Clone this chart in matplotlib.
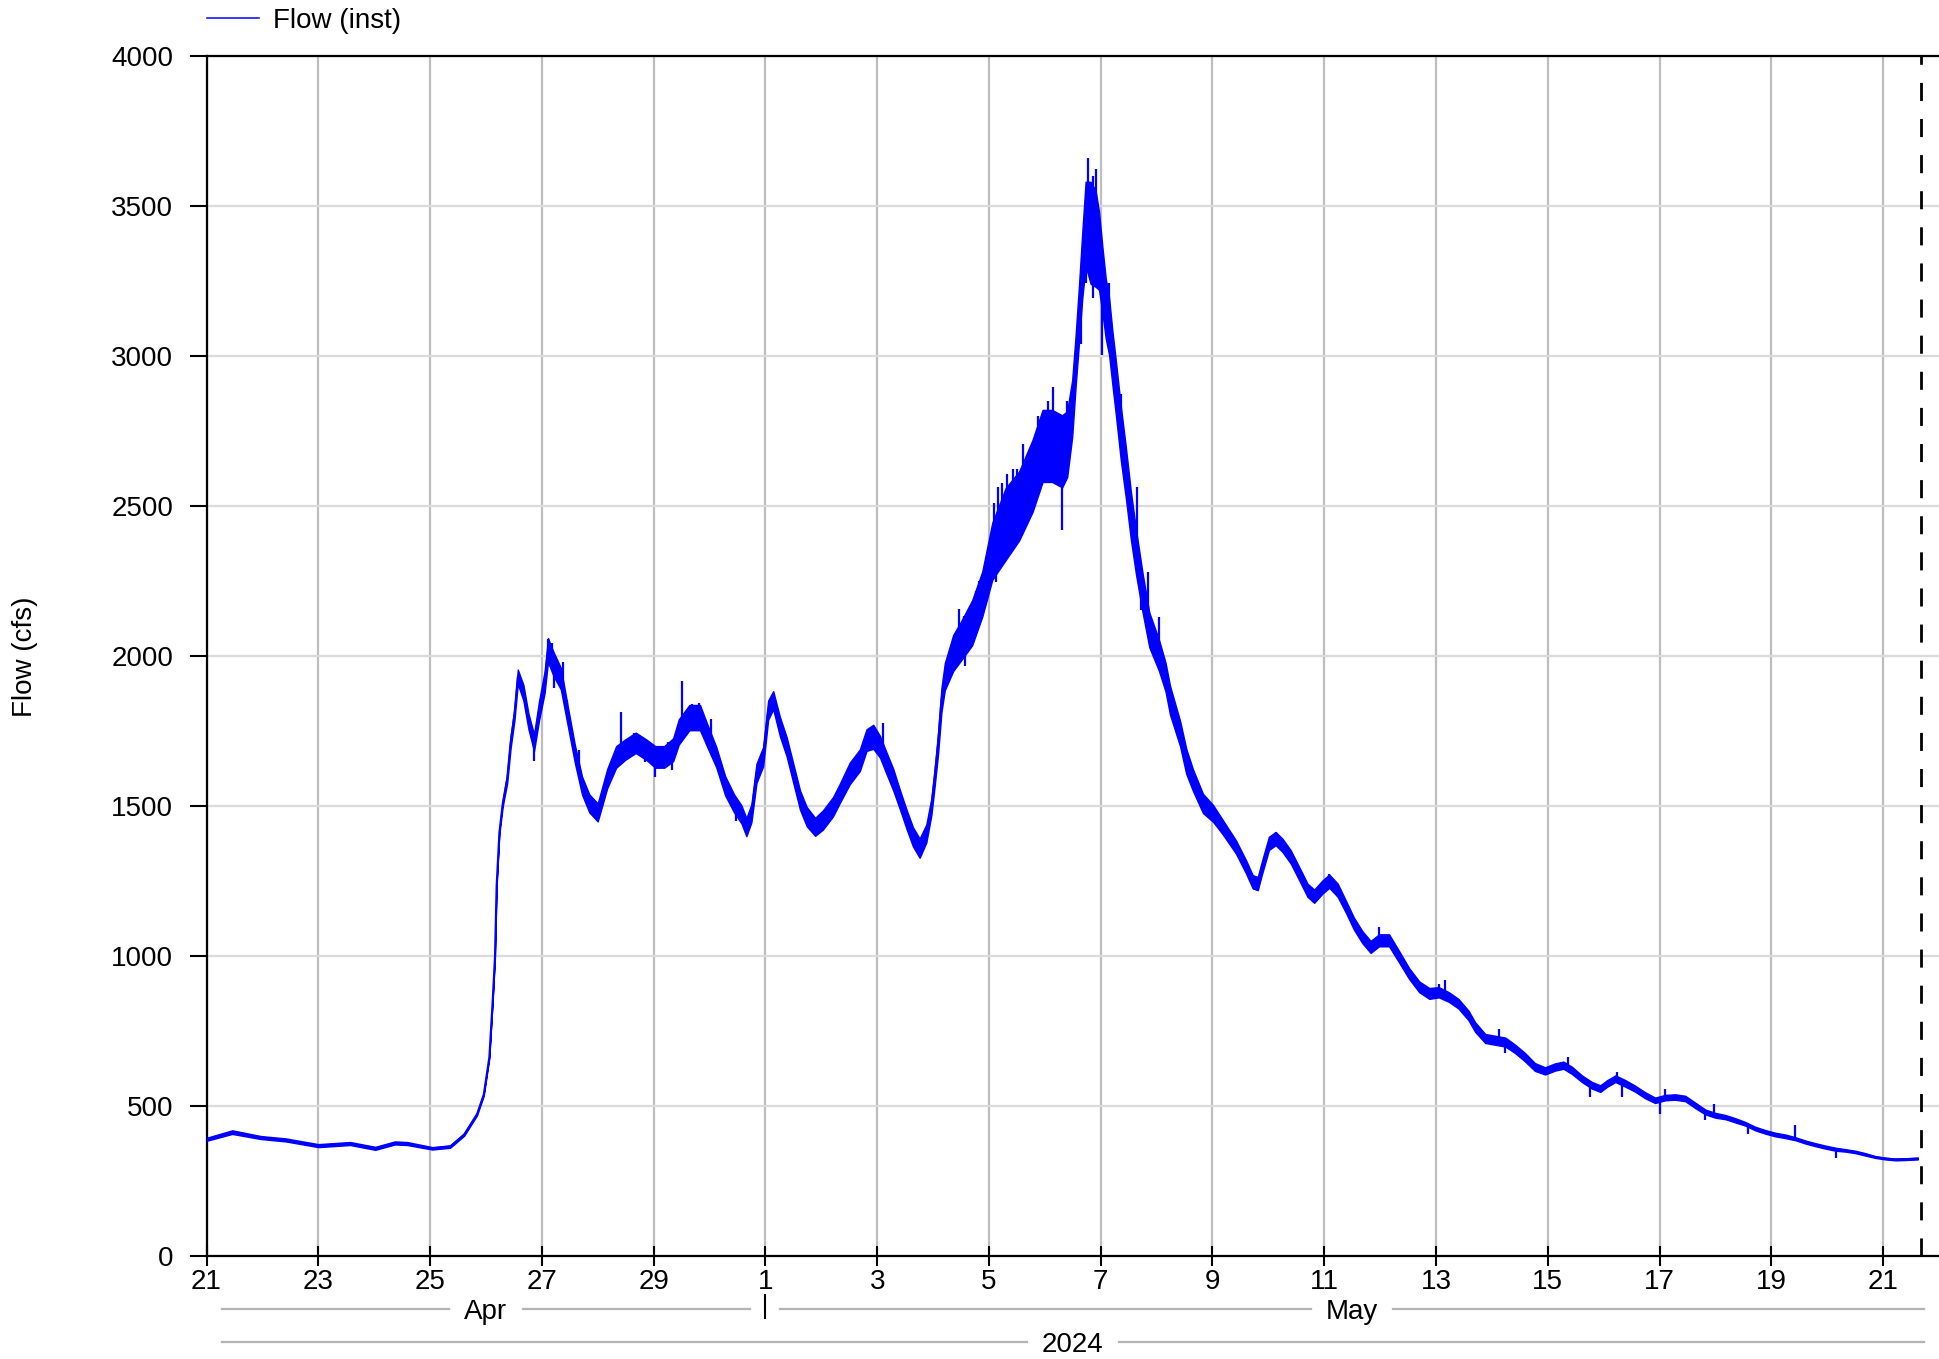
import numpy as np
import matplotlib
import matplotlib.pyplot as plt
import matplotlib.dates as mdates
from matplotlib.ticker import FuncFormatter, MultipleLocator
from matplotlib.transforms import blended_transform_factory
from datetime import datetime

matplotlib.use("Agg")

START = datetime(2024, 4, 21)
SPAN_DAYS = 31
NOW_DAY = 30.67  # dashed "now" marker, days after START

# instantaneous flow: days after Apr 21 00:00, cfs
days = [
    0.00, 0.46, 0.97, 1.42, 2.00, 2.57, 3.02, 3.37, 3.59, 4.04,
    4.36, 4.61, 4.84, 4.96, 5.06, 5.12, 5.16, 5.19, 5.24, 5.30,
    5.38, 5.44, 5.51, 5.57, 5.67, 5.76, 5.86, 5.95, 6.05, 6.11,
    6.21, 6.34, 6.47, 6.59, 6.72, 6.85, 7.00, 7.17, 7.33, 7.49,
    7.68, 7.87, 8.03, 8.19, 8.35, 8.45, 8.64, 8.83, 8.96, 9.12,
    9.28, 9.44, 9.57, 9.66, 9.75, 9.84, 9.96, 10.05, 10.14, 10.26,
    10.38, 10.50, 10.62, 10.74, 10.89, 11.03, 11.21, 11.33, 11.51, 11.69,
    11.81, 11.93, 12.05, 12.17, 12.29, 12.41, 12.53, 12.64, 12.76, 12.88,
    12.97, 13.03, 13.09, 13.15, 13.21, 13.36, 13.50, 13.70, 13.88, 14.06,
    14.30, 14.54, 14.78, 14.96, 15.13, 15.31, 15.40, 15.49, 15.55, 15.61,
    15.67, 15.73, 15.82, 15.91, 15.97, 16.03, 16.09, 16.15, 16.21, 16.27,
    16.36, 16.45, 16.54, 16.63, 16.75, 16.87, 17.04, 17.16, 17.24, 17.42,
    17.53, 17.65, 17.83, 18.01, 18.18, 18.42, 18.60, 18.72, 18.81, 18.89,
    19.01, 19.13, 19.25, 19.40, 19.55, 19.70, 19.82, 19.97, 20.09, 20.24,
    20.39, 20.53, 20.68, 20.83, 20.98, 21.16, 21.34, 21.52, 21.70, 21.88,
    22.05, 22.23, 22.40, 22.58, 22.70, 22.88, 23.06, 23.24, 23.41, 23.59,
    23.77, 23.95, 24.13, 24.28, 24.43, 24.61, 24.79, 24.94, 25.06, 25.21,
    25.39, 25.56, 25.74, 25.92, 26.10, 26.28, 26.46, 26.64, 26.82, 27.00,
    27.18, 27.36, 27.53, 27.71, 27.89, 28.07, 28.25, 28.43, 28.61, 28.79,
    28.97, 29.15, 29.33, 29.50, 29.68, 29.86, 30.04, 30.22, 30.40, 30.62,
]
flow = [
    390, 414, 396, 388, 369, 376, 360, 378, 376, 360,
    366, 406, 474, 539, 664, 854, 997, 1235, 1413, 1509,
    1592, 1711, 1806, 1931, 1878, 1783, 1711, 1818, 1913, 2020,
    1973, 1925, 1794, 1675, 1568, 1509, 1479, 1592, 1664, 1688,
    1711, 1688, 1664, 1664, 1688, 1747, 1795, 1795, 1735, 1664,
    1568, 1509, 1473, 1430, 1476, 1609, 1665, 1820, 1853, 1765,
    1698, 1609, 1520, 1465, 1431, 1454, 1498, 1542, 1609, 1653,
    1720, 1731, 1698, 1642, 1587, 1520, 1454, 1398, 1360, 1409,
    1498, 1598, 1709, 1853, 1931, 2010, 2050, 2111, 2206, 2349,
    2440, 2500, 2600, 2700, 2700, 2682, 2706, 2825, 2980, 3135,
    3301, 3440, 3410, 3390, 3350, 3254, 3158, 3099, 2992, 2896,
    2742, 2611, 2468, 2349, 2210, 2087, 2004, 1930, 1853, 1742,
    1650, 1587, 1509, 1476, 1431, 1364, 1298, 1248, 1242, 1298,
    1376, 1392, 1370, 1331, 1276, 1220, 1200, 1231, 1250, 1220,
    1164, 1109, 1064, 1031, 1053, 1053, 998, 942, 898, 876,
    880, 864, 842, 803, 764, 726, 720, 714, 692, 664,
    631, 618, 631, 637, 620, 592, 570, 559, 576, 592,
    576, 559, 537, 520, 529, 531, 526, 503, 481, 470,
    464, 453, 442, 426, 415, 406, 400, 392, 381, 372,
    364, 357, 353, 348, 340, 331, 326, 323, 324, 326,
]
# half-width of the fast gauge noise around the flow line, cfs
noise = [
    5, 6, 5, 5, 5, 5, 5, 5, 5, 4,
    4, 4, 4, 4, 4, 4, 4, 4, 6, 10,
    15, 20, 20, 24, 26, 26, 28, 32, 36, 40,
    40, 36, 32, 30, 30, 30, 30, 32, 36, 34,
    34, 34, 36, 36, 38, 42, 42, 42, 38, 34,
    32, 30, 30, 30, 30, 32, 32, 32, 30, 32,
    32, 32, 32, 32, 30, 32, 32, 32, 36, 36,
    36, 40, 36, 36, 36, 32, 32, 32, 32, 30,
    28, 30, 35, 40, 45, 60, 65, 75, 75, 95,
    120, 115, 120, 120, 120, 120, 110, 95, 85, 95,
    110, 140, 170, 160, 130, 110, 100, 95, 90, 90,
    90, 85, 80, 75, 65, 58, 52, 48, 48, 42,
    42, 36, 32, 28, 24, 22, 22, 22, 22, 22,
    22, 22, 22, 22, 22, 22, 22, 22, 22, 22,
    20, 20, 20, 20, 20, 20, 19, 18, 18, 18,
    17, 16, 16, 16, 16, 15, 15, 15, 14, 14,
    13, 12, 12, 12, 12, 11, 11, 11, 11, 11,
    11, 10, 10, 9, 9, 9, 9, 9, 8, 8,
    7, 7, 6, 6, 6, 6, 6, 5, 5, 5,
    5, 5, 4, 4, 4, 3, 3, 3, 3, 3,
]

# single-reading spikes: time, level they leave from, tip
spike_days = [
    5.86, 6.11, 6.18, 6.21, 6.38, 6.45, 6.66, 7.41, 7.46, 7.65,
    7.84, 8.03, 8.16, 8.26, 8.33, 8.51, 8.58, 8.69, 8.82, 9.02,
    9.47, 9.68, 12.11, 12.78, 13.46, 13.55, 13.58, 13.67, 13.76, 13.82,
    14.09, 14.13, 14.17, 14.24, 14.24, 14.33, 14.43, 14.51, 14.61, 14.87,
    15.06, 15.15, 15.30, 15.39, 15.64, 15.73, 15.78, 15.86, 15.87, 15.92,
    16.03, 16.15, 16.36, 16.65, 16.72, 16.85, 17.05, 18.81, 19.13, 19.82,
    20.09, 20.98, 22.05, 22.16, 23.12, 23.24, 24.36, 24.76, 25.24, 25.33,
    26.00, 26.10, 26.82, 26.97, 27.59, 28.43, 29.16,
]
spike_base = [
    1711, 2020, 1990, 1973, 1900, 1810, 1630, 1680, 1688, 1705,
    1690, 1664, 1664, 1670, 1685, 1760, 1780, 1795, 1795, 1715,
    1500, 1440, 1690, 1365, 2040, 2065, 2075, 2100, 2140, 2170,
    2360, 2370, 2400, 2420, 2420, 2445, 2470, 2495, 2530, 2650,
    2700, 2700, 2682, 2705, 3200, 3440, 3440, 3410, 3410, 3390,
    3254, 3099, 2742, 2330, 2240, 2100, 2000, 1242, 1392, 1200,
    1250, 1053, 880, 870, 718, 714, 630, 572, 590, 582,
    524, 529, 481, 471, 438, 392, 357,
]
spike_tip = [
    1652, 2056, 2044, 1895, 1979, 1854, 1687, 1812, 1646, 1745,
    1646, 1598, 1628, 1715, 1622, 1916, 1735, 1840, 1842, 1789,
    1449, 1405, 1776, 1335, 2158, 2134, 1968, 2027, 2218, 2250,
    2510, 2248, 2563, 2575, 2313, 2605, 2623, 2623, 2706, 2801,
    2849, 2896, 2420, 2849, 3039, 3242, 3658, 3194, 3600, 3623,
    3004, 3242, 2873, 2563, 2152, 2280, 2130, 1220, 1414, 1176,
    1275, 1098, 909, 920, 759, 676, 664, 531, 615, 531,
    476, 559, 453, 507, 409, 437, 329,
]

month_labels = ["Apr", "May"]
month_edges = [0, 10, 31]  # days after START
year_labels = ["2024"]
year_edges = [0, 31]

BLUE = "#0000ff"
FS = 20

plt.rcParams["font.family"] = ["Liberation Sans", "DejaVu Sans"]

fig = plt.figure(figsize=(19.39, 13.59), dpi=100)
ax = fig.add_axes([0.1065, 0.0755, 0.8935, 0.8835])

x0 = mdates.date2num(START)
t = x0 + np.array(days)
f = np.array(flow, dtype=float)
n = np.array(noise, dtype=float)

ax.fill_between(t, f - n, f + n, color=BLUE, lw=1.0, zorder=3)
ax.plot(t, f, color=BLUE, lw=1.4, label="Flow (inst)", zorder=4)
ax.vlines(x0 + np.array(spike_days), spike_base, spike_tip,
          color=BLUE, lw=1.6, zorder=4)

ax.axvline(x0 + NOW_DAY, color="black", lw=2, linestyle=(0, (6.5, 6.5)), zorder=5)

ax.set_xlim(x0, x0 + SPAN_DAYS)
ax.set_ylim(0, 4000)
ax.yaxis.set_major_locator(MultipleLocator(500))
ax.xaxis.set_major_locator(mdates.DayLocator(bymonthday=range(1, 32, 2)))
ax.xaxis.set_major_formatter(
    FuncFormatter(lambda x, pos: str(mdates.num2date(x).day)))

ax.set_axisbelow(True)
ax.grid(axis="x", color="#bdbdbd", lw=1.6)
ax.grid(axis="y", color="#dadada", lw=1.6)

for side in ["left", "bottom", "top"]:
    ax.spines[side].set_color("black")
    ax.spines[side].set_linewidth(1.6)
ax.spines["right"].set_visible(False)

ax.tick_params(axis="x", direction="inout", length=14, width=1.5,
               labelsize=FS, pad=2)
ax.tick_params(axis="y", direction="out", length=12, width=1.5,
               labelsize=FS, pad=12)

leg = ax.legend(loc="center left", bbox_to_anchor=(0.0, 1.029), frameon=False,
                fontsize=FS, handlelength=1.9, handletextpad=0.5,
                borderpad=0, borderaxespad=0)
leg.get_lines()[0].set_linewidth(1.1)

fig.text(25 / 1939, 1 - 657 / 1359, "Flow (cfs)", rotation=90,
         ha="center", va="center", fontsize=FS)

# month / year rows under the date ticks
trans = blended_transform_factory(ax.transData, fig.transFigure)
fig.canvas.draw()
renderer = fig.canvas.get_renderer()
px_per_day = ax.transData.transform((x0 + 1, 0))[0] - ax.transData.transform((x0, 0))[0]
gap = 15 / px_per_day
inset = 0.27


def label_row(edges, labels, y_line, y_base):
    for a, b, lab in zip(edges[:-1], edges[1:], labels):
        txt = ax.text(x0 + (a + b) / 2, y_base, lab, transform=trans,
                      ha="center", va="baseline", fontsize=FS, clip_on=False)
        bb = txt.get_window_extent(renderer)
        left = ax.transData.inverted().transform((bb.x0, 0))[0] - x0
        right = ax.transData.inverted().transform((bb.x1, 0))[0] - x0
        for s, e in [(a + inset, left - gap), (right + gap, b - inset)]:
            ax.plot([x0 + s, x0 + e], [y_line, y_line], transform=trans,
                    color="#b4b4b4", lw=1.6, clip_on=False)


label_row(month_edges, month_labels, 1 - 1309 / 1359, 1 - 1319 / 1359)
label_row(year_edges, year_labels, 1 - 1342 / 1359, 1 - 1352 / 1359)
for e in month_edges[1:-1]:
    ax.plot([x0 + e, x0 + e], [1 - 1295 / 1359, 1 - 1318 / 1359],
            transform=trans, color="black", lw=1.5, clip_on=False)

fig.savefig("out.png", dpi=100, facecolor="white")
